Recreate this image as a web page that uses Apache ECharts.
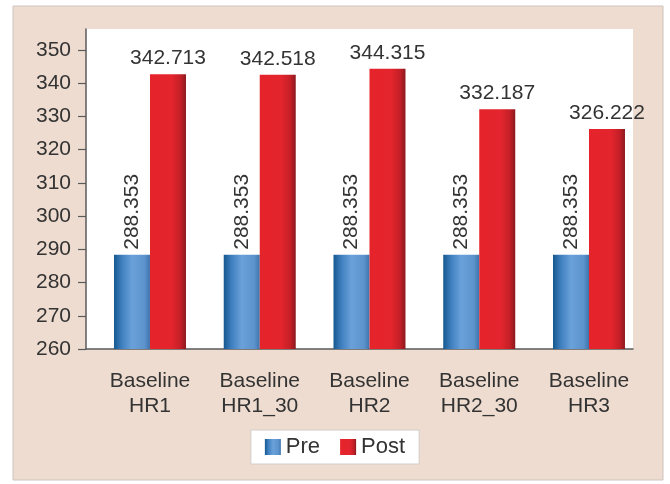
<!DOCTYPE html>
<html>
<head>
<meta charset="utf-8">
<script src="https://cdn.jsdelivr.net/npm/echarts@6/dist/echarts.min.js"></script>
<style>
  html, body { margin: 0; padding: 0; background: #ffffff; }
  #chart { width: 670px; height: 484px; }
</style>
</head>
<body>
<div id="chart"></div>
<script>
// Scenario names (two-line labels) and the two measured series
const categories = ['Baseline\nHR1', 'Baseline\nHR1_30', 'Baseline\nHR2', 'Baseline\nHR2_30', 'Baseline\nHR3'];
const preValues = [288.353, 288.353, 288.353, 288.353, 288.353];
const postValues = [342.713, 342.518, 344.315, 332.187, 326.222];
const yTicks = [260, 270, 280, 290, 300, 310, 320, 330, 340, 350];
const seriesNames = ['Pre', 'Post'];

const FONT = '"Liberation Sans", Arial, sans-serif';
const TEXT = '#333333';

const preFill = new echarts.graphic.LinearGradient(0, 0, 1, 0, [
  { offset: 0, color: '#15598f' },
  { offset: 0.22, color: '#3f7fbf' },
  { offset: 0.5, color: '#6aa1da' },
  { offset: 0.85, color: '#5d93cd' },
  { offset: 1, color: '#3e74ad' }
]);
const postFill = new echarts.graphic.LinearGradient(0, 0, 1, 0, [
  { offset: 0, color: '#e5232b' },
  { offset: 0.6, color: '#e4252d' },
  { offset: 0.85, color: '#c41f27' },
  { offset: 1, color: '#8c1a1f' }
]);

const toPoints = vals => vals.map((v, i) => [i, v]);

const chart = echarts.init(document.getElementById('chart'), null, { renderer: 'canvas' });

chart.setOption({
  animation: false,
  backgroundColor: '#ffffff',
  graphic: [{
    type: 'rect',
    z: -10,
    shape: { x: 13, y: 6, width: 650, height: 474 },
    style: { fill: '#eedcd0', stroke: '#cdc4bf', lineWidth: 1 }
  }],
  grid: {
    left: 86, right: 37, top: 29, bottom: 135,
    show: true, backgroundColor: '#ffffff', borderWidth: 0
  },
  legend: {
    data: seriesNames,
    left: 'center',
    top: 430,
    itemWidth: 16,
    itemHeight: 16,
    itemGap: 20,
    padding: [6, 14, 6, 14],
    backgroundColor: '#ffffff',
    borderColor: '#d2ccc8',
    borderWidth: 1,
    icon: 'rect',
    textStyle: { fontFamily: FONT, fontSize: 22, color: TEXT }
  },
  xAxis: {
    type: 'value',
    min: -0.583,
    max: 4.401,
    splitLine: { show: false },
    axisTick: { show: false },
    axisLine: { show: true, onZero: false, lineStyle: { color: '#5a5a5a', width: 1.5 } },
    axisLabel: {
      customValues: categories.map((c, i) => i),
      formatter: v => categories[Math.round(v)],
      fontFamily: FONT, fontSize: 21, color: TEXT,
      lineHeight: 25, margin: 20
    }
  },
  yAxis: {
    type: 'value',
    min: 260,
    max: 356.3,
    interval: 10,
    splitLine: { show: false },
    axisLine: { show: true, onZero: false, lineStyle: { color: '#5a5a5a', width: 1.5 } },
    axisTick: { show: true, length: 8, customValues: yTicks, lineStyle: { color: '#5a5a5a', width: 1.2 } },
    axisLabel: {
      customValues: yTicks,
      fontFamily: FONT, fontSize: 21, color: TEXT, margin: 15
    }
  },
  series: [
    {
      name: seriesNames[0],
      type: 'bar',
      data: toPoints(preValues),
      barWidth: 36,
      barGap: '0%',
      itemStyle: { color: preFill },
      label: {
        show: true,
        position: 'top',
        rotate: 90,
        align: 'left',
        verticalAlign: 'middle',
        distance: 5,
        fontFamily: FONT, fontSize: 21, color: TEXT,
        formatter: p => p.value[1].toFixed(3)
      }
    },
    {
      name: seriesNames[1],
      type: 'bar',
      data: toPoints(postValues),
      barWidth: 36,
      barGap: '0%',
      itemStyle: { color: postFill },
      label: {
        show: true,
        position: 'top',
        distance: 5,
        fontFamily: FONT, fontSize: 21, color: TEXT,
        formatter: p => p.value[1].toFixed(3)
      }
    }
  ]
});
</script>
</body>
</html>
